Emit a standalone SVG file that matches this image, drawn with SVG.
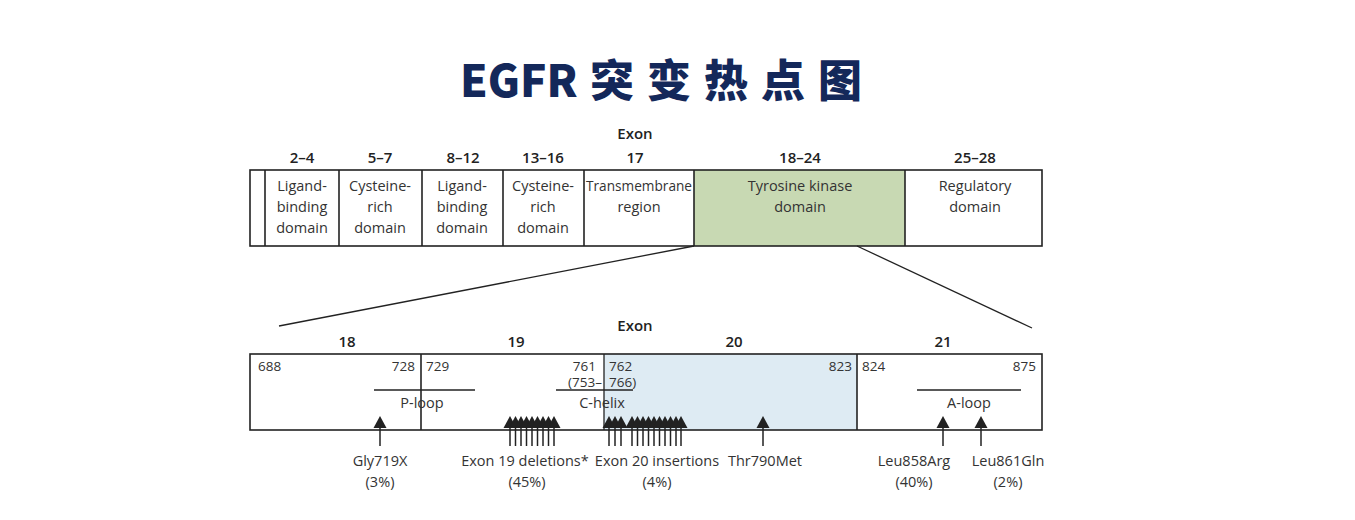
<svg xmlns="http://www.w3.org/2000/svg" width="1355" height="520" viewBox="0 0 1355 520">
<defs>
<style>
.t{font-family:"Open Sans","Noto Sans",sans-serif;fill:#333;font-size:14.5px;text-anchor:middle}
.ex{font-family:"Open Sans","Noto Sans",sans-serif;fill:#222;font-size:15px;font-weight:600;text-anchor:middle}
.n{font-family:"Open Sans","Noto Sans",sans-serif;fill:#333;font-size:13.5px}
.box{fill:none;stroke:#222;stroke-width:1.6}
.ln{stroke:#222;stroke-width:1.3;fill:none}
.sh{stroke:#222;stroke-width:1.5}
.title{font-family:"Noto Sans CJK SC","Noto Sans",sans-serif;font-weight:900;font-size:44px;fill:#14285a}
</style>
<path id="tri" d="M0,0 L6.5,12 L-6.5,12 Z" fill="#222"/>
<g id="arr"><use href="#tri" y="416"/><line x1="0" y1="427" x2="0" y2="446" class="sh"/></g>
</defs>
<rect width="1355" height="520" fill="#fff"/>
<text class="title" x="460" y="97">EGFR<tspan x="590" letter-spacing="13">突变热点图</tspan></text>

<g id="top-domains">
<rect x="694" y="170" width="211" height="76" fill="#c8d9b3"/>
<rect x="250" y="170" width="792" height="76" class="box"/>
<line x1="265" y1="170" x2="265" y2="246" class="box"/>
<line x1="339" y1="170" x2="339" y2="246" class="box"/>
<line x1="422" y1="170" x2="422" y2="246" class="box"/>
<line x1="503" y1="170" x2="503" y2="246" class="box"/>
<line x1="584" y1="170" x2="584" y2="246" class="box"/>
<line x1="694" y1="170" x2="694" y2="246" class="box"/>
<line x1="905" y1="170" x2="905" y2="246" class="box"/>
<text class="ex" x="635" y="139">Exon</text>
<text class="ex" x="302" y="163">2–4</text>
<text class="ex" x="380" y="163">5–7</text>
<text class="ex" x="463" y="163">8–12</text>
<text class="ex" x="543" y="163">13–16</text>
<text class="ex" x="635" y="163">17</text>
<text class="ex" x="800" y="163">18–24</text>
<text class="ex" x="975" y="163">25–28</text>
<g id="d1"><text class="t" x="302" y="191">Ligand-</text><text class="t" x="302" y="212">binding</text><text class="t" x="302" y="233">domain</text></g>
<g id="d2"><text class="t" x="380" y="191">Cysteine-</text><text class="t" x="380" y="212">rich</text><text class="t" x="380" y="233">domain</text></g>
<g id="d3"><text class="t" x="462" y="191">Ligand-</text><text class="t" x="462" y="212">binding</text><text class="t" x="462" y="233">domain</text></g>
<g id="d4"><text class="t" x="543" y="191">Cysteine-</text><text class="t" x="543" y="212">rich</text><text class="t" x="543" y="233">domain</text></g>
<g id="d5"><text class="t" x="639" y="191" textLength="106" lengthAdjust="spacingAndGlyphs">Transmembrane</text><text class="t" x="639" y="212">region</text></g>
<g id="d6"><text class="t" x="800" y="191">Tyrosine kinase</text><text class="t" x="800" y="212">domain</text></g>
<g id="d7"><text class="t" x="975" y="191">Regulatory</text><text class="t" x="975" y="212">domain</text></g>
</g>

<g id="connectors">
<line x1="694" y1="246" x2="279" y2="326" class="ln"/>
<line x1="857" y1="246" x2="1032" y2="328" class="ln"/>
</g>

<g id="kinase-detail">
<rect x="604" y="354" width="253" height="76" fill="#deebf3"/>
<rect x="250" y="354" width="792" height="76" class="box"/>
<line x1="421" y1="354" x2="421" y2="430" class="box"/>
<line x1="604" y1="354" x2="604" y2="430" class="ln"/>
<line x1="857" y1="354" x2="857" y2="430" class="box"/>
<text class="ex" x="635" y="331">Exon</text>
<text class="ex" x="347" y="347">18</text>
<text class="ex" x="516" y="347">19</text>
<text class="ex" x="734" y="347">20</text>
<text class="ex" x="943" y="347">21</text>
<text class="n" x="258" y="371">688</text>
<text class="n" x="415" y="371" text-anchor="end">728</text>
<text class="n" x="426" y="371">729</text>
<text class="n" x="596" y="371" text-anchor="end">761</text>
<text class="n" x="602" y="387" text-anchor="end">(753–</text>
<text class="n" x="609" y="371">762</text>
<text class="n" x="609" y="387">766)</text>
<text class="n" x="852" y="371" text-anchor="end">823</text>
<text class="n" x="862" y="371">824</text>
<text class="n" x="1036" y="371" text-anchor="end">875</text>
<line x1="374" y1="390" x2="475" y2="390" class="ln"/>
<line x1="556" y1="390" x2="633" y2="390" class="ln"/>
<line x1="917" y1="390" x2="1021" y2="390" class="ln"/>
<text class="t" x="422" y="408">P-loop</text>
<text class="t" x="602" y="408">C-helix</text>
<text class="t" x="969" y="408">A-loop</text>
</g>

<g id="mutations">
<use href="#arr" x="380"/>
<use href="#arr" x="510"/><use href="#arr" x="515.5"/><use href="#arr" x="521"/><use href="#arr" x="526.5"/><use href="#arr" x="532"/><use href="#arr" x="537.5"/><use href="#arr" x="543"/><use href="#arr" x="548.5"/><use href="#arr" x="554"/>
<use href="#arr" x="609"/><use href="#arr" x="615"/><use href="#arr" x="621"/>
<use href="#arr" x="632"/><use href="#arr" x="637.5"/><use href="#arr" x="643"/><use href="#arr" x="648.5"/><use href="#arr" x="654"/><use href="#arr" x="659.5"/><use href="#arr" x="665"/><use href="#arr" x="670.5"/><use href="#arr" x="676"/><use href="#arr" x="681"/>
<use href="#arr" x="763"/>
<use href="#arr" x="943"/>
<use href="#arr" x="981"/>
<text class="t" x="380" y="466">Gly719X</text><text class="t" x="380" y="487">(3%)</text>
<text class="t" x="525" y="466">Exon 19 deletions*</text><text class="t" x="527" y="487">(45%)</text>
<text class="t" x="657" y="466">Exon 20 insertions</text><text class="t" x="657" y="487">(4%)</text>
<text class="t" x="765" y="466">Thr790Met</text>
<text class="t" x="914" y="466">Leu858Arg</text><text class="t" x="914" y="487">(40%)</text>
<text class="t" x="1008" y="466">Leu861Gln</text><text class="t" x="1008" y="487">(2%)</text>
</g>
</svg>
